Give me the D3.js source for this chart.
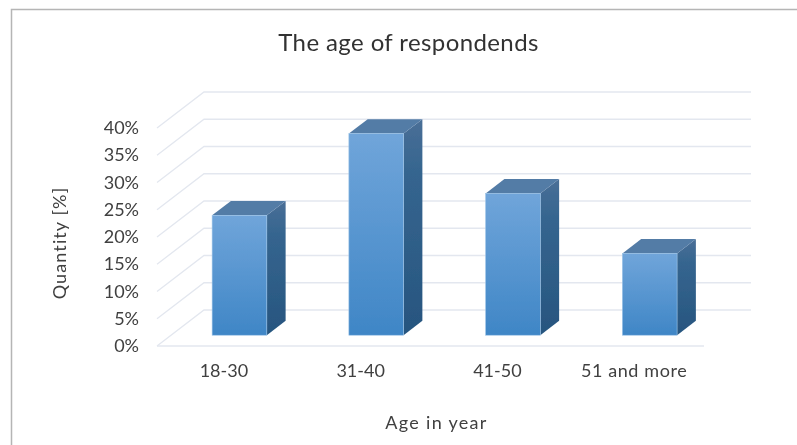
<!DOCTYPE html>
<html><head><meta charset="utf-8">
<script src="https://cdnjs.cloudflare.com/ajax/libs/d3/7.8.5/d3.min.js"></script>
<style>
html,body{margin:0;padding:0;background:#fff}
svg{display:block}
text{font-family:Lato,"Open Sans",sans-serif;fill:#404040}
</style></head><body>
<svg id="c" width="797" height="445"></svg>
<script>
const categories = ["18-30","31-40","41-50","51 and more"];
const values = [22,37,26,15];
const yTicks = [0,5,10,15,20,25,30,35,40];
const titleText = "The age of respondends";
const xTitle = "Age in year";
const yTitle = "Quantity [%]";

const svg = d3.select("#c");
const W = 797, H = 445;
const left = 157, right = 704, floorY = 346, topY = 128;
const depthX = 47, depthY = 36;
const barDepthFrac = 0.3, barDepth = 0.4;

const x = d3.scaleBand().domain(categories).range([left,right]).paddingInner(0.6).paddingOuter(0.3);
const y = d3.scaleLinear().domain([0,40]).range([floorY,topY]);

const defs = svg.append("defs");
const gradF = defs.append("linearGradient").attr("id","front").attr("x1",0).attr("y1",0).attr("x2",0).attr("y2",1);
gradF.append("stop").attr("offset",0).attr("stop-color","#70a5da");
gradF.append("stop").attr("offset",1).attr("stop-color","#3f86c6");
const gradS = defs.append("linearGradient").attr("id","side").attr("x1",0).attr("y1",0).attr("x2",0).attr("y2",1);
gradS.append("stop").attr("offset",0).attr("stop-color","#4a6f97");
gradS.append("stop").attr("offset",0.25).attr("stop-color","#35658f");
gradS.append("stop").attr("offset",1).attr("stop-color","#27557f");
defs.append("filter").attr("id","soft").append("feGaussianBlur").attr("stdDeviation",0.6);
defs.append("filter").attr("id","softT").append("feGaussianBlur").attr("stdDeviation",0.45);

// chart frame: top and left edges only
svg.append("path").attr("d",`M11.5,${H}V9.5H${W}`).attr("fill","none").attr("stroke","#b5b5b5").attr("stroke-width",1.5);

const plot = svg.append("g").attr("filter","url(#soft)");
const grid = plot.append("g");
yTicks.forEach(t=>{
  grid.append("path").attr("fill","none").attr("stroke","#e3e7ef").attr("stroke-width",1.3)
    .attr("d",d3.line()([[left,y(t)],[left+depthX,y(t)-depthY],[right+depthX,y(t)-depthY]]));
});
grid.append("path").attr("fill","none").attr("stroke","#e3e7ef").attr("stroke-width",1.3)
  .attr("d",d3.line()([[left,floorY],[right,floorY]]));

const bars = plot.selectAll("g.bar").data(categories.map((c,i)=>({c,v:values[i]}))).join("g").attr("class","bar");
const ox = depthX*barDepthFrac, oy = depthY*barDepthFrac;
const dx = depthX*barDepth, dy = depthY*barDepth;
bars.each(function(d){
  const g = d3.select(this);
  const x0 = x(d.c)+ox, x1 = x0+x.bandwidth();
  const b = y(0)-oy, t = y(d.v)-oy;
  g.append("path").attr("fill","url(#side)")
    .attr("d",d3.line()([[x1,b],[x1+dx,b-dy],[x1+dx,t-dy],[x1,t]])+"Z");
  g.append("path").attr("fill","#537ba6")
    .attr("d",d3.line()([[x0,t],[x0+dx,t-dy],[x1+dx,t-dy],[x1,t]])+"Z");
  g.append("rect").attr("x",x0).attr("y",t).attr("width",x1-x0).attr("height",b-t)
    .attr("fill","url(#front)").attr("stroke","#9cc4e8").attr("stroke-width",0.6);
});

const txt = svg.append("g").attr("filter","url(#softT)");
txt.selectAll("text.yt").data(yTicks).join("text").attr("class","yt")
  .attr("x",left-18).attr("y",d=>y(d)+6).attr("text-anchor","end").attr("font-size",18)
  .text(d=>d+"%");
txt.selectAll("text.xt").data(categories).join("text").attr("class","xt")
  .attr("x",d=>x(d)+x.bandwidth()/2-1.5).attr("y",377).attr("text-anchor","middle").attr("font-size",18)
  .attr("letter-spacing",d=>d.length>5?0.6:0)
  .text(d=>d);
txt.append("text").attr("x",408.5).attr("y",50.5).attr("text-anchor","middle").attr("font-size",24).attr("letter-spacing",0.4).style("fill","#333").text(titleText);
txt.append("text").attr("x",436.5).attr("y",429).attr("text-anchor","middle").attr("font-size",18).attr("letter-spacing",1.3).text(xTitle);
txt.append("text").attr("transform","translate(66,243) rotate(-90)").attr("text-anchor","middle").attr("font-size",18).attr("letter-spacing",1.1).text(yTitle);
</script>
</body></html>
